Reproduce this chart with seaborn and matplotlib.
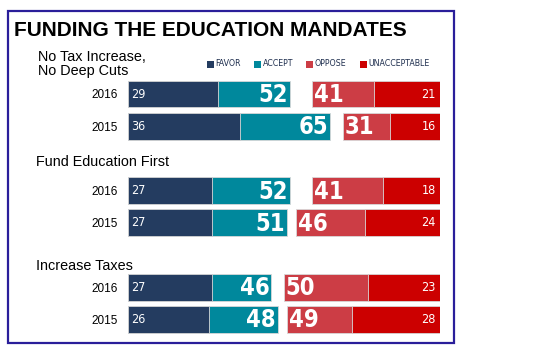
import matplotlib
matplotlib.use("Agg")
import matplotlib.pyplot as plt
from matplotlib import font_manager
from matplotlib.patches import Rectangle
import seaborn as sns
import pandas as pd

# ---------------- data ----------------
groups = ["No Tax Increase,\nNo Deep Cuts", "Fund Education First", "Increase Taxes"]
years = ["2016", "2015"]
favor = [29, 36, 27, 27, 27, 26]
favorable_total = [52, 65, 52, 51, 46, 48]      # favor + accept
unacceptable = [21, 16, 18, 24, 23, 28]
unfavorable_total = [41, 31, 41, 46, 50, 49]    # oppose + unacceptable
legend_labels = ["FAVOR", "ACCEPT", "OPPOSE", "UNACCEPTABLE"]
colors = ["#243C60", "#00889C", "#CC3D45", "#CC0000"]
title = "FUNDING THE EDUCATION MANDATES"

# ---------------- fonts ----------------
ttf = font_manager.fontManager.ttflist
names = {f.name for f in ttf}
if "Liberation Sans Narrow" in names:
    narrow = dict(family="Liberation Sans Narrow")
elif any(f.name == "DejaVu Sans" and f.stretch == "condensed" for f in ttf):
    narrow = dict(family="DejaVu Sans", stretch="condensed")
else:
    narrow = dict(family="Liberation Sans")
arial = "Liberation Sans" if "Liberation Sans" in names else "DejaVu Sans"

sns.set_theme(style="white")
plt.rcParams["font.family"] = [arial, "DejaVu Sans"]

# ---------------- table ----------------
rows, grp, yr = [], [], []
for gi, g in enumerate(groups):
    for y in years:
        rows.append(f"{gi}-{y}")
        grp.append(g)
        yr.append(y)
df = pd.DataFrame({
    "row": rows, "group": grp, "year": yr,
    "favor": favor, "fav_total": favorable_total,
    "unacc": unacceptable, "unfav_total": unfavorable_total,
})
order = ["0-2016", "0-2015", "gap1", "1-2016", "1-2015", "gap2", "2-2016", "2-2015"]

# ---------------- figure ----------------
W, H = 553, 356
fig = plt.figure(figsize=(W / 100, H / 100), dpi=100)
fig.patch.set_facecolor("white")

def fx(px):
    return px / W

def fy(py):
    return 1 - py / H

ax_left, ax_right = 128, 439.5
ax_top, ax_bot = 77.9, 335.5
ax = fig.add_axes([fx(ax_left), fy(ax_bot), fx(ax_right - ax_left), (ax_bot - ax_top) / H])
ax2 = ax.twiny()

bw = 0.83
edge = dict(edgecolor="#d8d8d8", linewidth=0.6)
sns.barplot(data=df, x="fav_total", y="row", order=order, orient="h", color=colors[1],
            saturation=1, width=bw, errorbar=None, ax=ax, **edge)
sns.barplot(data=df, x="favor", y="row", order=order, orient="h", color=colors[0],
            saturation=1, width=bw, errorbar=None, ax=ax, **edge)
sns.barplot(data=df, x="unfav_total", y="row", order=order, orient="h", color=colors[2],
            saturation=1, width=bw, errorbar=None, ax=ax2, **edge)
sns.barplot(data=df, x="unacc", y="row", order=order, orient="h", color=colors[3],
            saturation=1, width=bw, errorbar=None, ax=ax2, **edge)

ax.set_xlim(0, 100)
ax2.set_xlim(100, 0)
ax.set_ylim(len(order) - 0.5, -0.5)

pos = {r: order.index(r) for r in rows}

for a in (ax, ax2):
    a.set_xlabel("")
    a.set_ylabel("")
    a.set_xticks([])
    for s in a.spines.values():
        s.set_visible(False)
    a.set_facecolor("none")

ax.set_yticks([pos[r] for r in rows])
ax.set_yticklabels(yr, fontsize=8.5, color="black")
ax.tick_params(axis="y", length=0, pad=7.5)

# value labels
for _, r in df.iterrows():
    p = pos[r["row"]]
    ax.text(1.0, p, str(r["favor"]), ha="left", va="center", color="white",
            fontsize=9, **narrow)
    ax.text(r["fav_total"] - 0.6, p + 0.03, str(r["fav_total"]), ha="right", va="center",
            color="white", fontsize=17, fontweight="bold", **narrow)
    ax2.text(r["unfav_total"] - 0.6, p + 0.03, str(r["unfav_total"]), ha="left", va="center",
             color="white", fontsize=17, fontweight="bold", **narrow)
    ax2.text(1.2, p, str(r["unacc"]), ha="right", va="center", color="white",
             fontsize=9, **narrow)

# group titles
fig.text(fx(38.5), fy(64), groups[0], ha="left", va="center", fontsize=10.4,
         linespacing=1.05, color="black")
fig.text(fx(36), fy(161.5), groups[1], ha="left", va="center", fontsize=10.4, color="black")
fig.text(fx(36), fy(265.5), groups[2], ha="left", va="center", fontsize=10.4, color="black")

# title
fig.text(fx(14), fy(30), title, ha="left", va="center", fontsize=15,
         fontweight="bold", color="black")

# legend
sq = 7
for xs, lab, c in zip([207, 254, 306, 360], legend_labels, colors):
    fig.patches.append(Rectangle((fx(xs), fy(64 + sq / 2)), fx(sq), sq / H,
                                 transform=fig.transFigure, facecolor=c,
                                 edgecolor="none"))
    fig.text(fx(xs + sq + 1.5), fy(64), lab, ha="left", va="center",
             fontsize=6.3, color="#1F2F4F", **narrow)

# border
fig.patches.append(Rectangle((fx(8), fy(343)), fx(446), (343 - 11) / H,
                             transform=fig.transFigure, facecolor="none",
                             edgecolor="#2A1E9A", linewidth=1.6))

fig.savefig("out.png", dpi=100, facecolor="white")
